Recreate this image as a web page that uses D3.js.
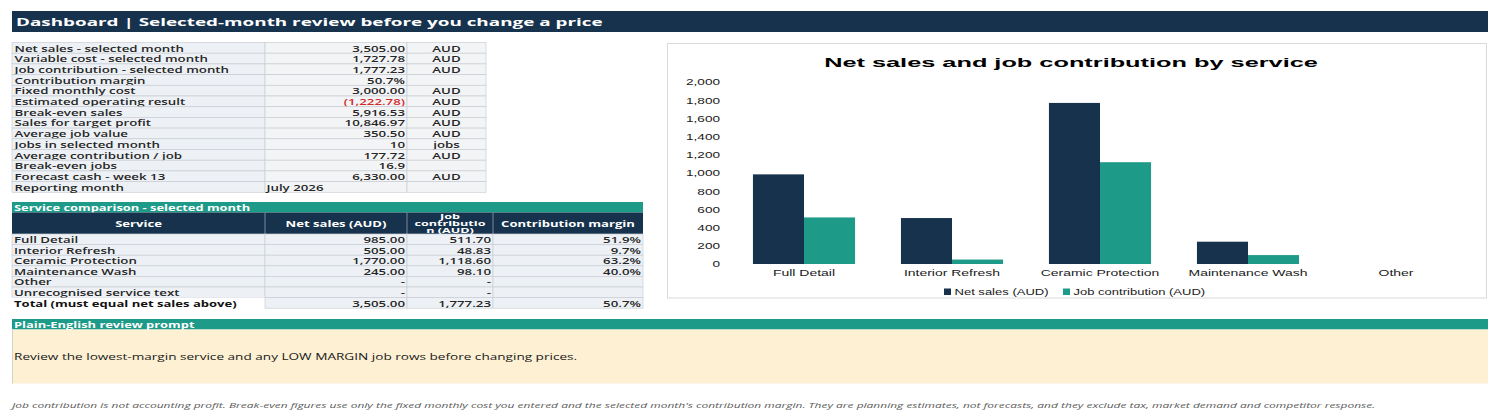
<!DOCTYPE html>
<html>
<head>
<meta charset="utf-8">
<script src="https://cdn.jsdelivr.net/npm/d3@7"></script>
<style>
  html, body { margin: 0; padding: 0; background: #fff; }
  svg { display: block; }
</style>
</head>
<body>
<svg id="dash" width="1500" height="419"></svg>
<script>
'use strict';
// ---- data ----
var pageTitle = 'Dashboard | Selected-month review before you change a price';
var metricLabels = ['Net sales - selected month','Variable cost - selected month','Job contribution - selected month',
  'Contribution margin','Fixed monthly cost','Estimated operating result','Break-even sales','Sales for target profit',
  'Average job value','Jobs in selected month','Average contribution / job','Break-even jobs','Forecast cash - week 13','Reporting month'];
var metricValues = [3505.00, 1727.78, 1777.23, 0.507, 3000.00, -1222.78, 5916.53, 10846.97, 350.50, 10, 177.72, 16.9, 6330.00, 'July 2026'];
var metricKinds = ['money','money','money','pct','money','money','money','money','money','int','money','dec1','money','text'];
var metricUnits = ['AUD','AUD','AUD','','AUD','AUD','AUD','AUD','AUD','jobs','AUD','','AUD',''];

var serviceTitle = 'Service comparison - selected month';
var serviceHeaders = ['Service','Net sales (AUD)','Job contribution (AUD)','Contribution margin'];
var services = ['Full Detail','Interior Refresh','Ceramic Protection','Maintenance Wash','Other','Unrecognised service text'];
var serviceSales = [985.00, 505.00, 1770.00, 245.00, 0, 0];
var serviceContribution = [511.70, 48.83, 1118.60, 98.10, 0, 0];
var totalLabel = 'Total (must equal net sales above)';

var chartTitle = 'Net sales and job contribution by service';
var chartCategories = ['Full Detail','Interior Refresh','Ceramic Protection','Maintenance Wash','Other'];
var seriesNames = ['Net sales (AUD)','Job contribution (AUD)'];
var yTicks = [0,200,400,600,800,1000,1200,1400,1600,1800,2000];

var promptTitle = 'Plain-English review prompt';
var promptText = 'Review the lowest-margin service and any LOW MARGIN job rows before changing prices.';
var footNote = "Job contribution is not accounting profit. Break-even figures use only the fixed monthly cost you entered and the selected month's contribution margin. They are planning estimates, not forecasts, and they exclude tax, market demand and competitor response.";

// ---- colours ----
var NAVY = '#17324d', TEAL = '#1d9a88', BEIGE = '#fdf0d3',
    CELL = '#edf1f5', CELL2 = '#f3f4f6', GRID = '#c9ced4', INK = '#262626';

var svg = d3.select('#dash');
svg.append('rect').attr('width',1500).attr('height',419).attr('fill','#fff');

// text styles, each one stretched horizontally to the width measured on the sheet
function style(family, size, weight, italic, ref, target){
	var st = {family:family, size:size, weight:weight, italic:italic, sx:1};
	var t = svg.append('text').style('font-family',family).style('font-size',size+'px')
	           .style('font-weight',weight).style('font-style',italic?'italic':'normal').text(ref);
	st.sx = target / t.node().getComputedTextLength();
	t.remove();
	return st;
}
function label(parent, x, y, str, st, color, anchor){
	var g = parent.append('g').attr('transform','translate('+x+','+y+') scale('+st.sx+',1)');
	g.append('text')
	 .attr('text-anchor', anchor || 'start')
	 .attr('dominant-baseline','central')
	 .style('font-family', st.family).style('font-size', st.size+'px')
	 .style('font-weight', st.weight).style('font-style', st.italic?'italic':'normal')
	 .attr('fill', color).text(str);
	return g;
}

var SANS = '"Open Sans", "DejaVu Sans", sans-serif',
    ARIAL = '"Liberation Sans", Arial, sans-serif';
var stHead   = style(SANS, 10.5, 700, false, pageTitle, 587);
var stCell   = style(SANS, 8.4, 600, false, 'Net sales - selected month', 169);
var stBold   = style(SANS, 8.4, 700, false, totalLabel, 222);
var stBar    = style(SANS, 8.2, 700, false, serviceTitle, 236);
var stHdr    = style(SANS, 8, 700, false, 'Net sales (AUD)', 101);
var stHdrS   = style(SANS, 6.6, 700, false, 'contributio', 71);
var stPrompt = style(SANS, 8.8, 400, false, promptText, 564);
var stFoot   = style(SANS, 7.4, 400, true, footNote, 1363);
var stCTitle = style(ARIAL, 13.5, 700, false, chartTitle, 494);
var stTick   = style(ARIAL, 8.2, 400, false, '2,000', 34);
var stCat    = style(ARIAL, 8.2, 400, false, 'Full Detail', 62);
var stLeg    = style(ARIAL, 8.2, 400, false, seriesNames[0], 94);

var fMoney = d3.format(',.2f'), fPct = d3.format('.1%');
function fmt(v, kind){
	if(kind==='money') return v < 0 ? '(' + fMoney(-v) + ')' : fMoney(v);
	if(kind==='pct') return fPct(v);
	if(kind==='int') return d3.format('d')(v);
	if(kind==='dec1') return d3.format('.1f')(v);
	return v;
}

// ---- page title bar ----
svg.append('rect').attr('x',12).attr('y',11).attr('width',1476).attr('height',21).attr('fill',NAVY);
label(svg, 16, 21.8, pageTitle, stHead, '#fff');

// ---- metric table ----
var mCols = [12, 265, 407, 486], mTop = 42.5, mRow = 10.7;
var mY = d3.scaleBand().domain(d3.range(metricLabels.length))
           .range([mTop, mTop + mRow*metricLabels.length]);
var metrics = svg.append('g').attr('id','metrics');
metrics.selectAll('g.row').data(metricLabels).enter().append('g').attr('class','row')
  .each(function(d,i){
	var row = d3.select(this), y0 = mY(i), h = mY.bandwidth(), yc = y0 + h/2 + 0.3;
	[0,1,2].forEach(function(c){
		row.append('rect').attr('x',mCols[c]).attr('y',y0).attr('width',mCols[c+1]-mCols[c]).attr('height',h)
		   .attr('fill', c===0 ? CELL : CELL2).attr('stroke',GRID).attr('stroke-width',0.7);
	});
	label(row, mCols[0]+2.5, yc, d, stCell, INK);
	var v = metricValues[i], k = metricKinds[i];
	if(k==='text') label(row, mCols[1]+1.5, yc, v, stCell, INK);
	else label(row, mCols[2]-2, yc, fmt(v,k), stCell, (typeof v==='number' && v<0) ? '#d42a2a' : INK, 'end');
	if(metricUnits[i]) label(row, (mCols[2]+mCols[3])/2, yc, metricUnits[i], stCell, INK, 'middle');
  });

// ---- service comparison table ----
var sCols = [12, 265, 407, 493, 643];
var sTable = svg.append('g').attr('id','services');
sTable.append('rect').attr('x',12).attr('y',202).attr('width',631).attr('height',10.5).attr('fill',TEAL);
label(sTable, 14, 207.4, serviceTitle, stBar, '#fff');
sTable.append('rect').attr('x',12).attr('y',212.5).attr('width',631).attr('height',21.5).attr('fill',NAVY);
d3.range(1,4).forEach(function(c){
	sTable.append('line').attr('x1',sCols[c]).attr('x2',sCols[c]).attr('y1',212.5).attr('y2',234)
	      .attr('stroke','#8fa0b3').attr('stroke-width',0.8);
});
serviceHeaders.forEach(function(h,c){
	var cx = (sCols[c]+sCols[c+1])/2;
	if(c===2){
		['Job','contributio','n (AUD)'].forEach(function(part,j){ label(sTable, cx, 216.2 + j*6.9, part, stHdrS, '#fff', 'middle'); });
	} else label(sTable, cx, 223.2, h, stHdr, '#fff', 'middle');
});

var sRowsData = services.map(function(s,i){
	var has = serviceSales[i] > 0;
	return {name:s, sales: has ? fMoney(serviceSales[i]) : '-', contr: has ? fMoney(serviceContribution[i]) : '-',
	        margin: has ? fPct(serviceContribution[i]/serviceSales[i]) : '', bold:false};
});
var totSales = d3.sum(serviceSales), totContr = d3.sum(serviceContribution);
sRowsData.push({name: totalLabel, sales: fMoney(totSales), contr: fMoney(totContr),
                margin: fPct(totContr/totSales), bold:true});
var sY = d3.scaleBand().domain(d3.range(sRowsData.length)).range([234, 234 + 10.6*sRowsData.length]);
sTable.selectAll('g.row').data(sRowsData).enter().append('g').attr('class','row')
  .each(function(d,i){
	var row = d3.select(this), y0 = sY(i), h = sY.bandwidth(), yc = y0 + h/2 + 0.3;
	[0,1,2,3].forEach(function(c){
		row.append('rect').attr('x',sCols[c]).attr('y',y0).attr('width',sCols[c+1]-sCols[c]).attr('height',h)
		   .attr('fill', (d.bold && c===0) ? '#fff' : CELL)
		   .attr('stroke', (d.bold && c===0) ? 'none' : GRID).attr('stroke-width',0.7);
	});
	label(row, sCols[0]+2, yc, d.name, d.bold ? stBold : stCell, d.bold ? '#111' : INK);
	label(row, sCols[2]-2, yc, d.sales, stCell, INK, 'end');
	label(row, sCols[3]-2, yc, d.contr, stCell, INK, 'end');
	if(d.margin) label(row, sCols[4]-2, yc, d.margin, stCell, INK, 'end');
  });

// ---- chart ----
var chart = svg.append('g').attr('id','chart');
chart.append('rect').attr('x',667.5).attr('y',43.5).attr('width',819).attr('height',254.5)
     .attr('fill','#fff').attr('stroke','#d9d9d9').attr('stroke-width',1);
label(chart, 1071, 62, chartTitle, stCTitle, '#000', 'middle');

var chartSales = chartCategories.map(function(c){ return serviceSales[services.indexOf(c)]; });
var chartContr = chartCategories.map(function(c){ return serviceContribution[services.indexOf(c)]; });

var x0 = d3.scaleBand().domain(chartCategories).range([730,1470]).paddingInner(0.31).paddingOuter(0.155);
var x1 = d3.scaleBand().domain([0,1]).range([0, x0.bandwidth()]);
var y = d3.scaleLinear().domain([0,2000]).range([264,82]);
var colors = [NAVY, TEAL];

var yAxis = chart.append('g').attr('transform','translate(720,0)')
  .call(d3.axisLeft(y).tickValues(yTicks).tickSize(0).tickFormat(d3.format(',')));
yAxis.select('.domain').remove();
yAxis.selectAll('text')
  .attr('x',0).attr('dy',null).attr('dominant-baseline','central')
  .attr('transform','scale('+stTick.sx+',1)')
  .style('font-family',stTick.family).style('font-size',stTick.size+'px').attr('fill','#1a1a1a');

var xAxis = chart.append('g').attr('transform','translate(0,264)')
  .call(d3.axisBottom(x0).tickSize(0));
xAxis.select('.domain').remove();
xAxis.selectAll('text')
  .attr('y',0).attr('dy',null).attr('dominant-baseline','central')
  .attr('transform','translate(0,9.3) scale('+stCat.sx+',1)')
  .style('font-family',stCat.family).style('font-size',stCat.size+'px').attr('fill','#1a1a1a');

var groups = chart.append('g').attr('id','bars').selectAll('g').data(chartCategories).enter().append('g')
  .attr('transform', function(d){ return 'translate('+x0(d)+',0)'; });
groups.selectAll('rect').data(function(d,i){ return [chartSales[i], chartContr[i]]; }).enter().append('rect')
  .attr('x', function(d,j){ return x1(j); })
  .attr('width', x1.bandwidth())
  .attr('y', function(d){ return y(d); })
  .attr('height', function(d){ return y(0) - y(d); })
  .attr('fill', function(d,j){ return colors[j]; });

// legend
var legX = [944, 1063];
seriesNames.forEach(function(n,j){
	chart.append('rect').attr('x',legX[j]).attr('y',288.5).attr('width',7).attr('height',6.5).attr('fill',colors[j]);
	label(chart, legX[j]+10.5, 292, n, stLeg, '#1a1a1a');
});

// ---- review prompt ----
var prompt = svg.append('g').attr('id','prompt');
prompt.append('rect').attr('x',12).attr('y',319).attr('width',1476).attr('height',10.5).attr('fill',TEAL);
label(prompt, 14, 324.3, promptTitle, stBar, '#fff');
prompt.append('rect').attr('x',12).attr('y',329.5).attr('width',1476).attr('height',54).attr('fill',BEIGE);
prompt.append('line').attr('x1',12.5).attr('x2',12.5).attr('y1',329.5).attr('y2',383.5).attr('stroke','#d8d2c4');
label(prompt, 14, 356.5, promptText, stPrompt, '#1a1a1a');

label(svg, 12, 405, footNote, stFoot, '#5a5a5a');
</script>
</body>
</html>
